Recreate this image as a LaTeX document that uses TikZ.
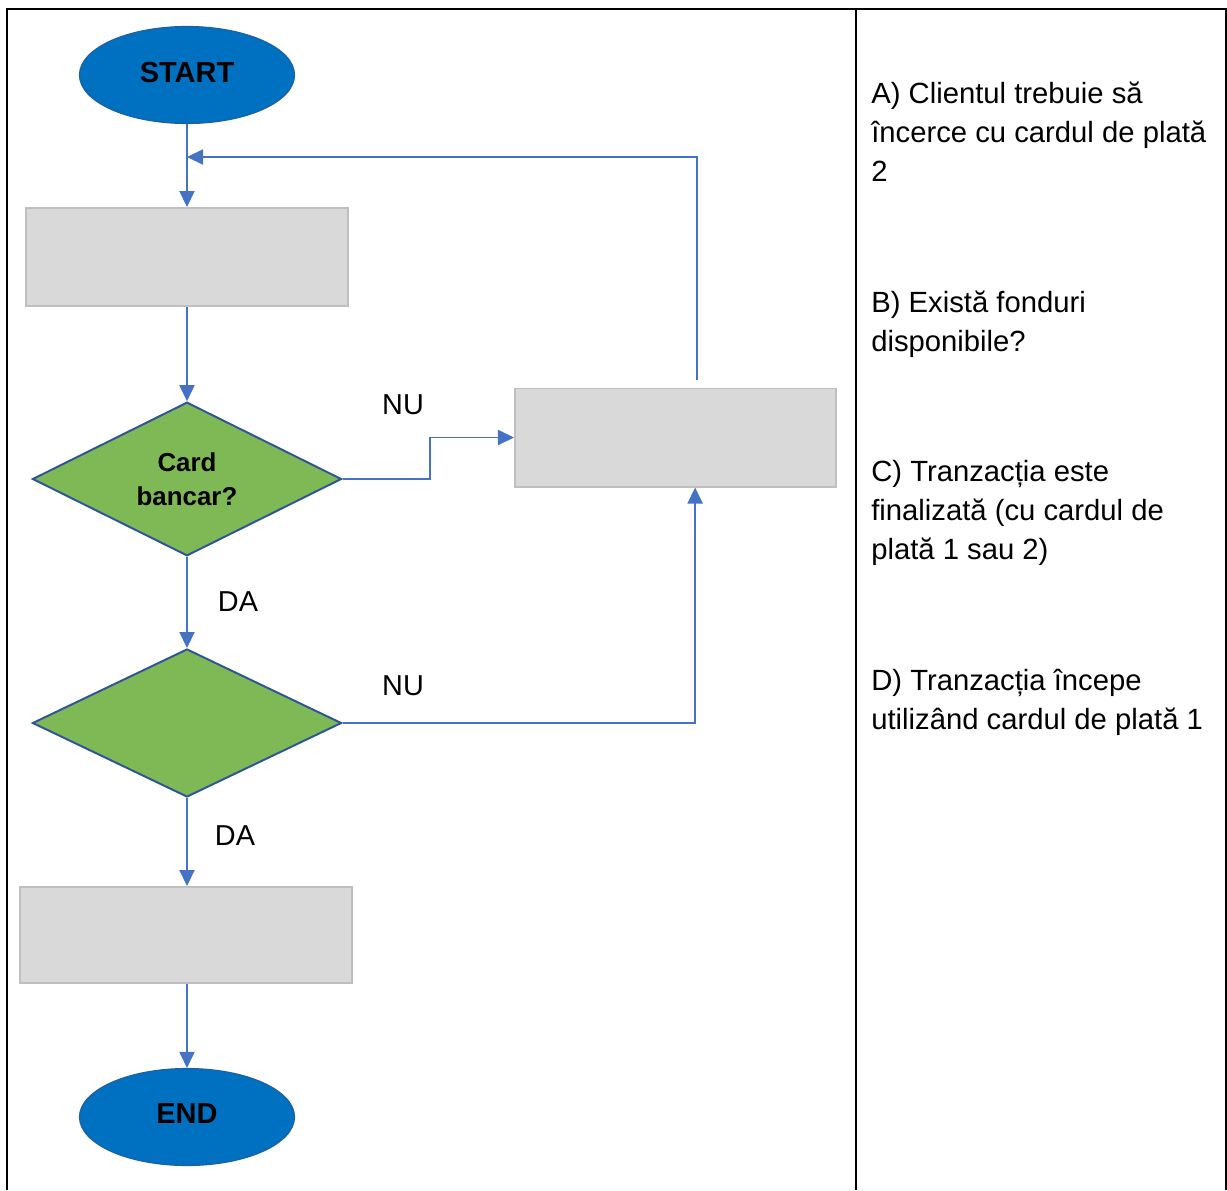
\documentclass[tikz,border=0pt]{standalone}
\usepackage{fontspec}
\setmainfont{Liberation Sans}
\usetikzlibrary{shapes.geometric,arrows.meta}
\definecolor{termblue}{RGB}{0,112,192}
\definecolor{termedge}{RGB}{30,95,160}
\definecolor{decgreen}{RGB}{126,185,86}
\definecolor{decedge}{RGB}{47,85,151}
\definecolor{boxgrey}{RGB}{217,217,217}
\definecolor{boxedge}{RGB}{191,191,191}
\definecolor{linkblue}{RGB}{68,114,196}

\tikzset{
  terminal/.style={ellipse, fill=termblue, draw=termedge, line width=0.8pt,
    minimum width=5.375cm, minimum height=2.425cm, inner sep=0pt,
    font=\fontsize{20.6}{24}\selectfont\bfseries},
  decision/.style={diamond, fill=decgreen, draw=decedge, line width=1.4pt,
    minimum width=7.725cm, minimum height=3.7cm, inner sep=0pt, align=center,
    font=\fontsize{18.4}{24.2}\selectfont\bfseries},
  blank/.style={rectangle, fill=boxgrey, draw=boxedge, line width=1.4pt,
    minimum width=8.025cm, minimum height=2.45cm, inner sep=0pt},
  conn/.style={draw=linkblue, line width=0.9pt, -{Triangle[length=0.4cm,width=0.38cm]}},
  answer/.style={font=\fontsize{20.5}{27.7}\selectfont},
  option/.style={anchor=north west, align=left, inner sep=0pt,
    font=\fontsize{20.8}{27.7}\selectfont},
  frame/.style={line width=1.8pt}
}

\begin{document}
\begin{tikzpicture}[x=0.025cm,y=-0.025cm]
  \useasboundingbox (0,0) rectangle (1227,1190);

  % table lines
  \draw[frame] (7,1190) |- (1226,9) -- (1226,1190);
  \draw[frame] (856,9) -- (856,1190);

  % flowchart
  \node[terminal] (start) at (187,75) {\raisebox{0.15cm}{START}};
  \node[blank] (step1) at (187,257) {};
  \node[decision] (card) at (187,479) {Card\\bancar?};
  \node[decision] (funds) at (187,723) {};
  \node[blank, minimum width=8.025cm] (retry) at (675.5,437.5) {};
  \node[blank, minimum width=8.3cm, minimum height=2.4cm] (done) at (186,935) {};
  \node[terminal] (end) at (187,1117) {\raisebox{0.15cm}{END}};

  \coordinate (back) at (187,157);
  \coordinate (jog) at (430,479);

  \draw[conn] (start) -- (step1);
  \draw[conn] (step1) -- (card);
  \draw[conn] (card) -- (funds);
  \draw[conn] (funds) -- (done.north -| funds);
  \draw[conn] (done.south -| end) -- (end);
  \draw[conn] (card.east) -- (jog) |- (retry.west);
  \draw[conn] (funds.east) -| ([xshift=0.49cm]retry.south);
  \draw[conn] ([xshift=0.54cm,yshift=0.2cm]retry.north) |- (back);

  \node[answer] (nu1) at (403,405) {NU};
  \node[answer] (nu2) at (403,686) {NU};
  \node[answer] (da1) at (238,602) {DA};
  \node[answer] (da2) at (235,836) {DA};

  % answer options
  \node[option] (optA) at (871,82) {A) Clientul trebuie să\\încerce cu cardul de plată\\2};
  \node[option] (optB) at (871,291) {B) Există fonduri\\disponibile?};
  \node[option] (optC) at (871,460) {C) Tranzacția este\\finalizată (cu cardul de\\plată 1 sau 2)};
  \node[option] (optD) at (871,669) {D) Tranzacția începe\\utilizând cardul de plată 1};
\end{tikzpicture}
\end{document}
